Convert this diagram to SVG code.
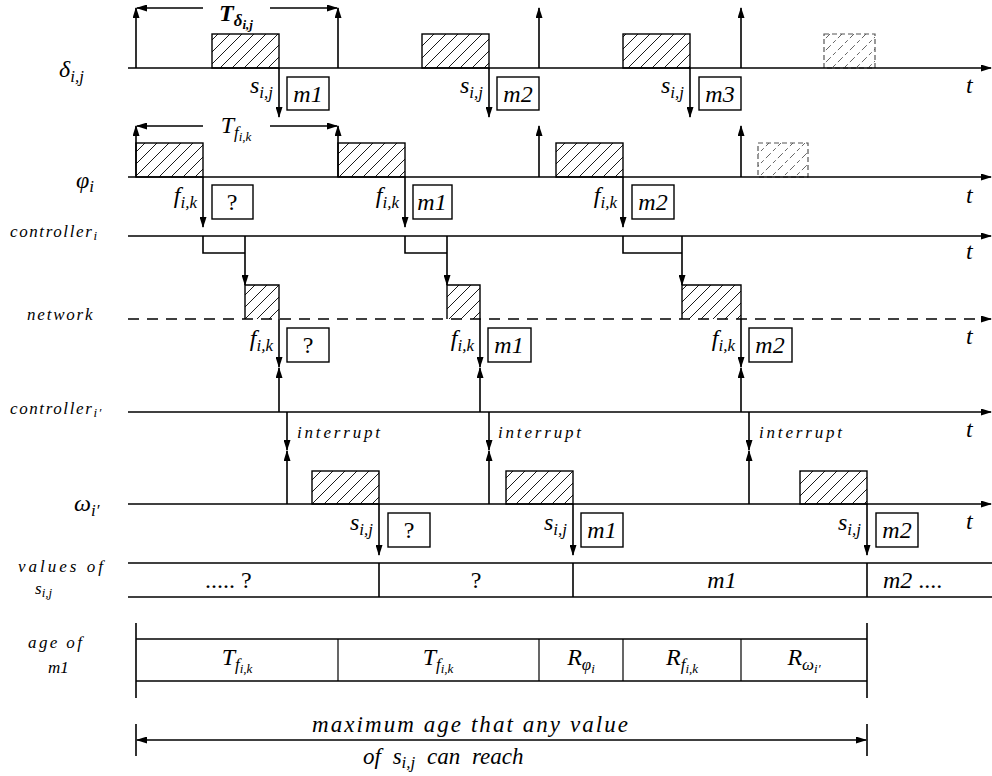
<svg xmlns="http://www.w3.org/2000/svg" width="992" height="776" viewBox="0 0 992 776" font-family="'Liberation Serif', 'DejaVu Serif', serif" font-style="italic">
<style>
text{font-family:"Liberation Serif","DejaVu Serif",serif;font-style:italic;fill:#000}
.m{font-size:24px}
.sm{font-size:17px}
.sub{font-size:17px}
.ss{font-size:13px}
.up{font-style:normal}
.ln{stroke:#000;stroke-width:1.6;fill:none}
.arr{stroke:#000;stroke-width:1.6;fill:none;marker-end:url(#ah)}
.arr2{stroke:#000;stroke-width:1.3;fill:none;marker-end:url(#ah)}
.dax{stroke:#000;stroke-width:1.6;fill:none;stroke-dasharray:11 8;marker-end:url(#ah)}
.hb{fill:url(#hatch);stroke:#000;stroke-width:1.4}
.db{fill:url(#dhatch);stroke:#555;stroke-width:1.2;stroke-dasharray:5 3}
.bx{fill:#fff;stroke:#000;stroke-width:1.4}
.thin{stroke:#000;stroke-width:1.2;fill:none}
</style>
<defs>
<marker id="ah" markerUnits="userSpaceOnUse" markerWidth="11" markerHeight="7" refX="10" refY="3.5" orient="auto">
<path d="M0,0 L11,3.5 L0,7 z" fill="#000"/>
</marker>
<marker id="ahs" markerUnits="userSpaceOnUse" markerWidth="11" markerHeight="7" refX="1" refY="3.5" orient="auto">
<path d="M11,0 L0,3.5 L11,7 z" fill="#000"/>
</marker>
<pattern id="hatch" patternUnits="userSpaceOnUse" width="12" height="12">
<path d="M-3,3 L3,-3 M0,12 L12,0 M9,15 L15,9" stroke="#000" stroke-width="0.9"/>
</pattern>
<pattern id="dhatch" patternUnits="userSpaceOnUse" width="12" height="12">
<path d="M-3,3 L3,-3 M0,12 L12,0 M9,15 L15,9" stroke="#555" stroke-width="0.9" stroke-dasharray="4 3"/>
</pattern>
</defs>

<!-- row labels -->
<g id="labels">
<text class="m" x="59" y="77">δ<tspan class="sub" dy="5">i,j</tspan></text>
<text class="m" x="76" y="188">φ<tspan class="sub" dy="4">i</tspan></text>
<text class="sm" x="10" y="237" letter-spacing="1.6">controller<tspan class="ss" dy="3">i</tspan></text>
<text class="sm" x="27" y="320" letter-spacing="1.8">network</text>
<text class="sm" x="10" y="414" letter-spacing="1.6">controller<tspan class="ss" dy="3">i′</tspan></text>
<text class="m" x="74" y="511">ω<tspan class="sub" dy="5">i′</tspan></text>
<text class="sm" x="18" y="572" textLength="85">values of</text>
<text class="sm" x="35" y="594">s<tspan class="ss" dy="3">i,j</tspan></text>
<text class="sm" x="28" y="648" textLength="54">age of</text>
<text class="sm" x="48" y="673">m1</text>
</g>

<!-- delta row -->
<g id="row-delta">
<rect class="hb" x="212" y="34" width="67" height="34"/>
<rect class="hb" x="422" y="34" width="67" height="34"/>
<rect class="hb" x="623" y="34" width="67" height="34"/>
<rect class="db" x="824" y="34" width="51" height="34"/>
<line class="arr" x1="128" y1="68" x2="991" y2="68"/>
<text class="m" x="966" y="93">t</text>
<text x="236" y="21" text-anchor="middle" font-size="24" font-weight="bold">T<tspan class="sub" dy="5" font-weight="bold">δ</tspan><tspan class="ss" dy="3" font-weight="bold">i,j</tspan></text>
</g>
<g id="box-d1"><rect class="bx" x="287" y="77" width="42" height="33"/><text class="m" x="308" y="102" text-anchor="middle">m1</text><text class="m" x="273" y="93" text-anchor="end">s<tspan class="sub" dy="5">i,j</tspan></text></g>
<g id="box-d2"><rect class="bx" x="497" y="77" width="42" height="33"/><text class="m" x="518" y="102" text-anchor="middle">m2</text><text class="m" x="483" y="93" text-anchor="end">s<tspan class="sub" dy="5">i,j</tspan></text></g>
<g id="box-d3"><rect class="bx" x="699" y="77" width="42" height="33"/><text class="m" x="720" y="102" text-anchor="middle">m3</text><text class="m" x="684" y="93" text-anchor="end">s<tspan class="sub" dy="5">i,j</tspan></text></g>

<!-- phi row -->
<g id="row-phi">
<rect class="hb" x="136" y="143" width="67" height="34"/>
<rect class="hb" x="338" y="143" width="67" height="34"/>
<rect class="hb" x="556" y="143" width="67" height="34"/>
<rect class="db" x="758" y="143" width="50" height="34"/>
<line class="arr" x1="128" y1="177" x2="991" y2="177"/>
<text class="m" x="966" y="203">t</text>
<text class="m" x="236" y="133" text-anchor="middle">T<tspan class="sub" dy="5">f</tspan><tspan class="ss" dy="3">i,k</tspan></text>
</g>
<g id="box-p1"><rect class="bx" x="212" y="185" width="41" height="34"/><text class="m up" x="232" y="210" text-anchor="middle">?</text><text class="m" x="197" y="203" text-anchor="end">f<tspan class="sub" dy="5">i,k</tspan></text></g>
<g id="box-p2"><rect class="bx" x="413" y="185" width="39" height="34"/><text class="m" x="432" y="210" text-anchor="middle">m1</text><text class="m" x="399" y="203" text-anchor="end">f<tspan class="sub" dy="5">i,k</tspan></text></g>
<g id="box-p3"><rect class="bx" x="632" y="185" width="42" height="34"/><text class="m" x="653" y="210" text-anchor="middle">m2</text><text class="m" x="617" y="203" text-anchor="end">f<tspan class="sub" dy="5">i,k</tspan></text></g>

<!-- controller_i row -->
<g id="row-ctrl-i">
<line class="arr" x1="128" y1="236" x2="991" y2="236"/>
<text class="m" x="966" y="259">t</text>
</g>

<!-- network row -->
<g id="row-network">
<path class="hb" d="M245,319 V285 H279 V319"/>
<path class="hb" d="M447,319 V285 H480 V319"/>
<path class="hb" d="M682,319 V285 H741 V319"/>
<line class="dax" x1="128" y1="319" x2="991" y2="319"/>
<text class="m" x="966" y="344">t</text>
</g>
<g id="box-n1"><rect class="bx" x="287" y="328" width="42" height="34"/><text class="m up" x="308" y="353" text-anchor="middle">?</text><text class="m" x="273" y="346" text-anchor="end">f<tspan class="sub" dy="5">i,k</tspan></text></g>
<g id="box-n2"><rect class="bx" x="488" y="328" width="43" height="34"/><text class="m" x="509" y="353" text-anchor="middle">m1</text><text class="m" x="474" y="346" text-anchor="end">f<tspan class="sub" dy="5">i,k</tspan></text></g>
<g id="box-n3"><rect class="bx" x="749" y="328" width="43" height="34"/><text class="m" x="770" y="353" text-anchor="middle">m2</text><text class="m" x="735" y="346" text-anchor="end">f<tspan class="sub" dy="5">i,k</tspan></text></g>

<!-- controller_i' row -->
<g id="row-ctrl-i2">
<line class="arr" x1="128" y1="412" x2="991" y2="412"/>
<text class="m" x="966" y="437">t</text>
<text class="sm" x="297" y="438" textLength="83">interrupt</text>
<text class="sm" x="498" y="438" textLength="83">interrupt</text>
<text class="sm" x="759" y="438" textLength="83">interrupt</text>
</g>

<!-- omega row -->
<g id="row-omega">
<rect class="hb" x="312" y="471" width="67" height="33"/>
<rect class="hb" x="506" y="471" width="67" height="33"/>
<rect class="hb" x="800" y="471" width="67" height="33"/>
<line class="arr" x1="128" y1="504" x2="991" y2="504"/>
<text class="m" x="966" y="529">t</text>
</g>
<g id="box-w1"><rect class="bx" x="388" y="513" width="42" height="34"/><text class="m up" x="409" y="538" text-anchor="middle">?</text><text class="m" x="373" y="530" text-anchor="end">s<tspan class="sub" dy="5">i,j</tspan></text></g>
<g id="box-w2"><rect class="bx" x="581" y="513" width="42" height="34"/><text class="m" x="602" y="538" text-anchor="middle">m1</text><text class="m" x="567" y="530" text-anchor="end">s<tspan class="sub" dy="5">i,j</tspan></text></g>
<g id="box-w3"><rect class="bx" x="876" y="513" width="42" height="34"/><text class="m" x="897" y="538" text-anchor="middle">m2</text><text class="m" x="861" y="530" text-anchor="end">s<tspan class="sub" dy="5">i,j</tspan></text></g>

<!-- values row -->
<g id="row-values">
<line class="ln" x1="128" y1="563" x2="992" y2="563"/>
<line class="ln" x1="128" y1="597" x2="992" y2="597"/>
<line class="ln" x1="379" y1="563" x2="379" y2="597"/>
<line class="ln" x1="573" y1="563" x2="573" y2="597"/>
<line class="ln" x1="867" y1="563" x2="867" y2="597"/>
<text class="m up" x="205" y="588">.....  ?</text>
<text class="m up" x="476" y="588" text-anchor="middle">?</text>
<text class="m" x="722" y="588" text-anchor="middle">m1</text>
<text class="m" x="883" y="588">m2 <tspan class="up">....</tspan></text>
</g>

<!-- age row -->
<g id="row-age">
<line class="ln" x1="136" y1="623" x2="136" y2="698"/>
<line class="ln" x1="867" y1="623" x2="867" y2="698"/>
<line class="ln" x1="136" y1="639" x2="867" y2="639"/>
<line class="ln" x1="136" y1="681" x2="867" y2="681"/>
<line class="thin" x1="338" y1="639" x2="338" y2="681"/>
<line class="thin" x1="539" y1="639" x2="539" y2="681"/>
<line class="thin" x1="623" y1="639" x2="623" y2="681"/>
<line class="thin" x1="741" y1="639" x2="741" y2="681"/>
<text class="m" x="237" y="665" text-anchor="middle">T<tspan class="sub" dy="5">f</tspan><tspan class="ss" dy="3">i,k</tspan></text>
<text class="m" x="438" y="665" text-anchor="middle">T<tspan class="sub" dy="5">f</tspan><tspan class="ss" dy="3">i,k</tspan></text>
<text class="m" x="581" y="665" text-anchor="middle">R<tspan class="sub" dy="5">φ</tspan><tspan class="ss" dy="3">i</tspan></text>
<text class="m" x="682" y="665" text-anchor="middle">R<tspan class="sub" dy="5">f</tspan><tspan class="ss" dy="3">i,k</tspan></text>
<text class="m" x="804" y="665" text-anchor="middle">R<tspan class="sub" dy="5">ω</tspan><tspan class="ss" dy="3">i′</tspan></text>
</g>

<!-- max age -->
<g id="max-age">
<line class="ln" x1="136" y1="724" x2="136" y2="756"/>
<line class="ln" x1="867" y1="724" x2="867" y2="756"/>
<line x1="137" y1="740" x2="866" y2="740" stroke="#000" stroke-width="1.3" marker-start="url(#ahs)" marker-end="url(#ah)"/>
<text x="312" y="732" font-size="23" textLength="316">maximum age that any value</text>
<text x="363" y="764" font-size="23" word-spacing="6">of s<tspan class="sub" dy="4">i,j</tspan><tspan dy="-4"> can reach</tspan></text>
</g>

<!-- connectors -->
<g id="connectors">
<line class="arr" x1="136" y1="68" x2="136" y2="8"/>
<line class="arr" x1="338" y1="68" x2="338" y2="8"/>
<line class="arr" x1="539" y1="68" x2="539" y2="8"/>
<line class="arr" x1="741" y1="68" x2="741" y2="8"/>
<line class="arr2" x1="203" y1="8" x2="137" y2="8"/>
<line class="arr2" x1="270" y1="8" x2="337" y2="8"/>
<line class="arr" x1="279" y1="68" x2="279" y2="117"/>
<line class="arr" x1="489" y1="68" x2="489" y2="117"/>
<line class="arr" x1="690" y1="68" x2="690" y2="117"/>
<line class="arr" x1="136" y1="177" x2="136" y2="126"/>
<line class="arr" x1="338" y1="177" x2="338" y2="126"/>
<line class="arr" x1="539" y1="177" x2="539" y2="126"/>
<line class="arr" x1="741" y1="177" x2="741" y2="126"/>
<line class="arr2" x1="203" y1="126" x2="137" y2="126"/>
<line class="arr2" x1="270" y1="126" x2="337" y2="126"/>
<line class="arr" x1="203" y1="177" x2="203" y2="227"/>
<line class="arr" x1="405" y1="177" x2="405" y2="227"/>
<line class="arr" x1="623" y1="177" x2="623" y2="227"/>
<polyline class="ln" points="203,236 203,253 245,253"/>
<line class="arr" x1="245" y1="236" x2="245" y2="285"/>
<polyline class="ln" points="405,236 405,253 447,253"/>
<line class="arr" x1="447" y1="236" x2="447" y2="285"/>
<polyline class="ln" points="623,236 623,253 682,253"/>
<line class="arr" x1="682" y1="236" x2="682" y2="285"/>
<line class="arr" x1="279" y1="319" x2="279" y2="367"/>
<line class="arr" x1="480" y1="319" x2="480" y2="367"/>
<line class="arr" x1="741" y1="319" x2="741" y2="367"/>
<line class="arr" x1="279" y1="412" x2="279" y2="368"/>
<line class="arr" x1="480" y1="412" x2="480" y2="368"/>
<line class="arr" x1="741" y1="412" x2="741" y2="368"/>
<line class="arr" x1="287" y1="412" x2="287" y2="450"/>
<line class="arr" x1="489" y1="412" x2="489" y2="450"/>
<line class="arr" x1="749" y1="412" x2="749" y2="450"/>
<line class="arr" x1="287" y1="504" x2="287" y2="451"/>
<line class="arr" x1="489" y1="504" x2="489" y2="451"/>
<line class="arr" x1="749" y1="504" x2="749" y2="451"/>
<line class="arr" x1="379" y1="504" x2="379" y2="555"/>
<line class="arr" x1="573" y1="504" x2="573" y2="555"/>
<line class="arr" x1="867" y1="504" x2="867" y2="555"/>
</g>
</svg>
